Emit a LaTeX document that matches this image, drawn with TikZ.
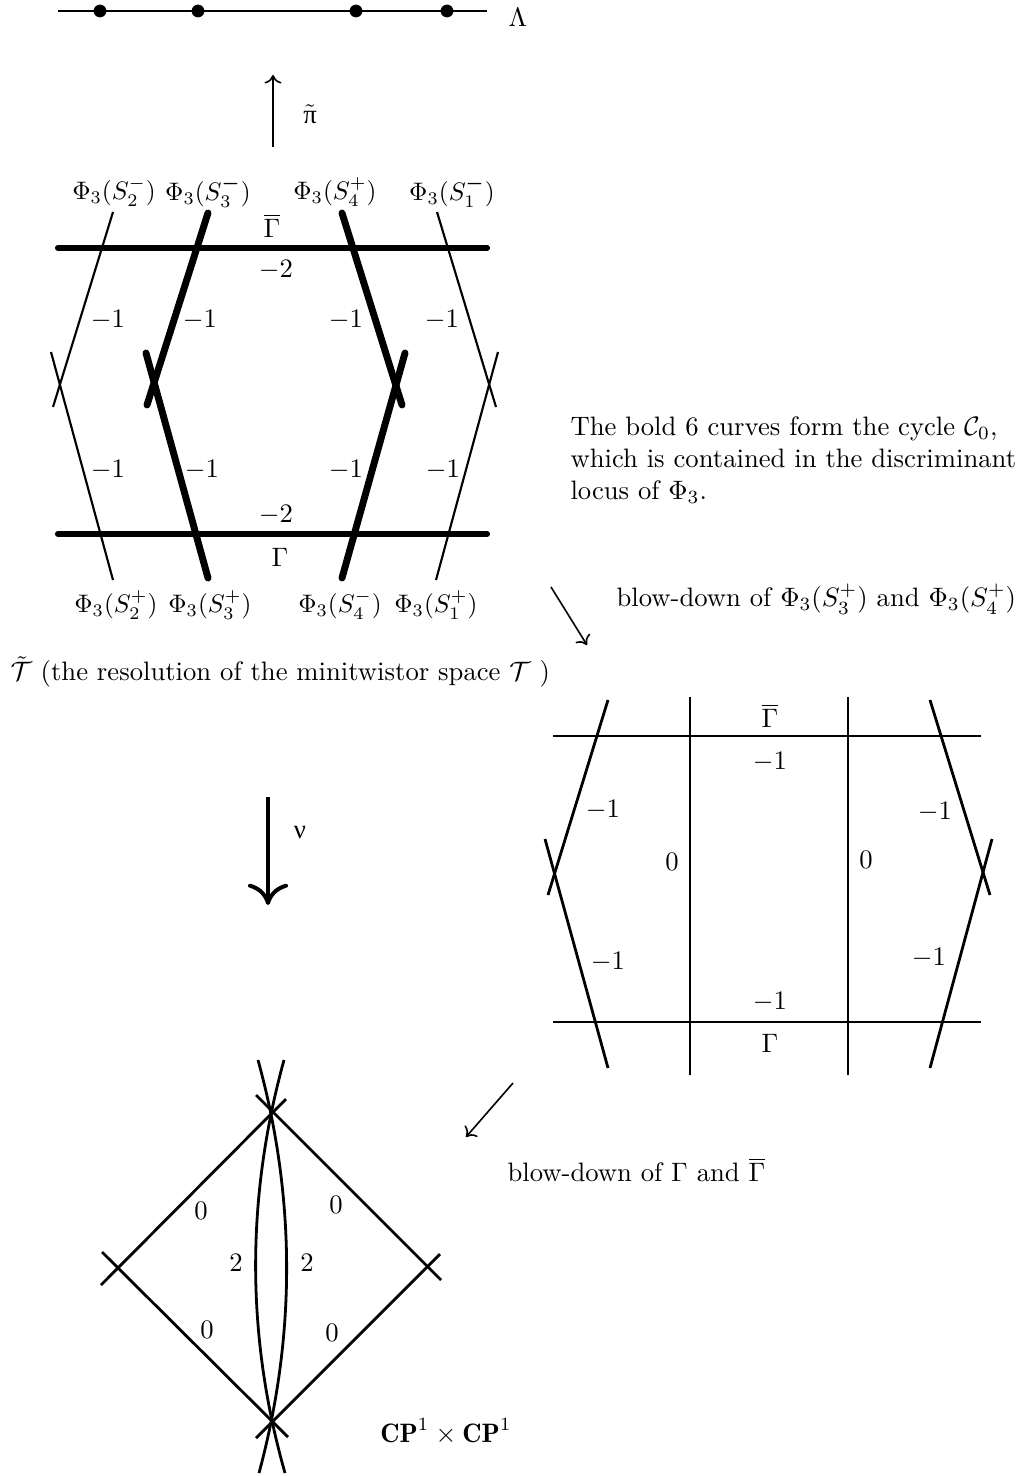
\documentclass[tikz,border=0pt]{standalone}
\usepackage{fontspec}
\usepackage{bm}
\usetikzlibrary{arrows.meta}
\newfontfamily\grk{Liberation Serif}
\newcommand{\philbl}[1]{\scalebox{0.95}{#1}}
\begin{document}
\begin{tikzpicture}[x=0.375pt,y=-0.375pt,
  topln/.style={line width=1pt},
  thinln/.style={line width=0.8pt},
  boldln/.style={line width=2.6pt,line cap=round},
  hline/.style={line width=2.3pt,line cap=round},
  midln/.style={line width=1.05pt},
  arr/.style={-{To[length=3.2pt,width=6.4pt]},line width=0.6pt},
  bigarr/.style={-{To[length=8pt,width=15pt,line width=1.5pt]},line width=1.5pt},
  dot/.style={circle,fill,inner sep=0pt,minimum size=4.8pt},
  lbl/.style={inner sep=0pt}]
\useasboundingbox (0,0) rectangle (1017,1476);

% ---- top line Lambda
\coordinate (Ls) at (58,11); \coordinate (Le) at (487,11);
\draw[topln] (Ls) -- (Le);
\node[dot] (d1) at (100,11) {};
\node[dot] (d2) at (198,11) {};
\node[dot] (d3) at (356,11) {};
\node[dot] (d4) at (447,11) {};
\node[lbl] (Lam) at (518,17) {$\Lambda$};

% ---- pi arrow
\coordinate (pia) at (273,147); \coordinate (pib) at (273,75);
\draw[arr] (pia) -- (pib);
\node[lbl] (pi) at (310,114) {$\tilde{\mbox{\grk π}}$};

% ---- top diagram
\coordinate (Gb1) at (58,248); \coordinate (Gb2) at (487,248);
\coordinate (G1) at (58,534); \coordinate (G2) at (487,534);
\draw[hline] (Gb1) -- (Gb2);
\draw[hline] (G1) -- (G2);
\coordinate (s2ma) at (113,212); \coordinate (s2mb) at (53,407);
\coordinate (s2pa) at (51,352); \coordinate (s2pb) at (113,580);
\coordinate (s1ma) at (437,212); \coordinate (s1mb) at (496,407);
\coordinate (s1pa) at (498,352); \coordinate (s1pb) at (436,580);
\draw[thinln] (s2ma) -- (s2mb);
\draw[thinln] (s2pa) -- (s2pb);
\draw[thinln] (s1ma) -- (s1mb);
\draw[thinln] (s1pa) -- (s1pb);
\coordinate (s3ma) at (208,213); \coordinate (s3mb) at (147,405);
\coordinate (s3pa) at (146,353); \coordinate (s3pb) at (208,578);
\coordinate (s4pa) at (342,213); \coordinate (s4pb) at (402,405);
\coordinate (s4ma) at (405,353); \coordinate (s4mb) at (342,578);
\draw[boldln] (s3ma) -- (s3mb);
\draw[boldln] (s3pa) -- (s3pb);
\draw[boldln] (s4pa) -- (s4pb);
\draw[boldln] (s4ma) -- (s4mb);

\node[lbl] (t1) at (114,192) {\philbl{$\Phi_3(S_2^-)$}};
\node[lbl] (t2) at (208,192) {\philbl{$\Phi_3(S_3^{\bm{-}})$}};
\node[lbl] (t3) at (335,192) {\philbl{$\Phi_3(S_4^+)$}};
\node[lbl] (t4) at (452,192) {\philbl{$\Phi_3(S_1^{\bm{-}})$}};
\node[lbl] (b1) at (116,605) {\philbl{$\Phi_3(S_2^+)$}};
\node[lbl] (b2) at (210,605) {\philbl{$\Phi_3(S_3^+)$}};
\node[lbl] (b3) at (340,605) {\philbl{$\Phi_3(S_4^-)$}};
\node[lbl] (b4) at (436,605) {\philbl{$\Phi_3(S_1^+)$}};

\node[lbl] (Gbl) at (272,226) {$\overline{\Gamma}$};
\node[lbl] (Gl) at (280,557) {$\Gamma$};
\node[lbl] (m2a) at (276,270) {$-2$};
\node[lbl] (m2b) at (276,515) {$-2$};
\node[lbl] (m1a) at (108,320) {$-1$};
\node[lbl] (m1b) at (200,320) {$-1$};
\node[lbl] (m1c) at (346,320) {$-1$};
\node[lbl] (m1d) at (442,320) {$-1$};
\node[lbl] (m1e) at (108,470) {$-1$};
\node[lbl] (m1f) at (202,470) {$-1$};
\node[lbl] (m1g) at (346,470) {$-1$};
\node[lbl] (m1h) at (443,470) {$-1$};

\node[lbl,anchor=west] (Tt) at (10,672) {$\tilde{\mathcal{T}}$ (the resolution of the minitwistor space $\mathcal{T}$\ )};

\node[lbl,anchor=north west,align=left] (txt) at (570,416)
  {The bold 6 curves form the cycle $\mathcal{C}_0$,\\
   which is contained in the discriminant\\
   locus of $\Phi_3$.};

% ---- arrow 1
\coordinate (a1s) at (551,587); \coordinate (a1e) at (587,645);
\draw[arr] (a1s) -- (a1e);
\node[lbl,anchor=west] (bd1) at (616,599) {blow-down of $\Phi_3(S_3^+)$ and $\Phi_3(S_4^+)$};

% ---- middle right diagram
\coordinate (mGb1) at (553,736); \coordinate (mGb2) at (981,736);
\coordinate (mG1) at (553,1022); \coordinate (mG2) at (981,1022);
\draw[midln] (mGb1) -- (mGb2);
\draw[midln] (mG1) -- (mG2);
\coordinate (v1a) at (690,697); \coordinate (v1b) at (690,1075);
\coordinate (v2a) at (848,697); \coordinate (v2b) at (848,1075);
\draw[midln] (v1a) -- (v1b);
\draw[midln] (v2a) -- (v2b);
\coordinate (ml1a) at (608,700); \coordinate (ml1b) at (548,895);
\coordinate (ml2a) at (545,839); \coordinate (ml2b) at (608,1068);
\coordinate (mr1a) at (930,700); \coordinate (mr1b) at (990,895);
\coordinate (mr2a) at (992,839); \coordinate (mr2b) at (930,1068);
\draw[midln] (ml1a) -- (ml1b);
\draw[midln] (ml2a) -- (ml2b);
\draw[midln] (mr1a) -- (mr1b);
\draw[midln] (mr2a) -- (mr2b);
\node[lbl] (mGbl) at (770,716) {$\overline{\Gamma}$};
\node[lbl] (mGl) at (770,1043) {$\Gamma$};
\node[lbl] (n1) at (770,762) {$-1$};
\node[lbl] (n2) at (770,1002) {$-1$};
\node[lbl] (n3) at (603,810) {$-1$};
\node[lbl] (n4) at (935,812) {$-1$};
\node[lbl] (n5) at (608,962) {$-1$};
\node[lbl] (n6) at (929,958) {$-1$};
\node[lbl] (z1) at (672,862) {$0$};
\node[lbl] (z2) at (866,860) {$0$};

% ---- nu arrow
\coordinate (nus) at (268,797); \coordinate (nue) at (268,905);
\draw[bigarr] (nus) -- (nue);
\node[lbl] (nu) at (300,833) {\grk ν};

% ---- arrow 2
\coordinate (a2s) at (513,1083); \coordinate (a2e) at (466,1137);
\draw[arr] (a2s) -- (a2e);
\node[lbl,anchor=west] (bd2) at (507,1170) {blow-down of $\Gamma$ and $\overline{\Gamma}$};

% ---- bottom diagram
\coordinate (eA1) at (101,1285); \coordinate (eA2) at (286,1099);
\coordinate (eB1) at (256,1095); \coordinate (eB2) at (441,1280);
\coordinate (eC1) at (102,1252); \coordinate (eC2) at (288,1437);
\coordinate (eD1) at (440,1254); \coordinate (eD2) at (256,1438);
\draw[midln] (eA1) -- (eA2);
\draw[midln] (eB1) -- (eB2);
\draw[midln] (eC1) -- (eC2);
\draw[midln] (eD1) -- (eD2);
\coordinate (cR1) at (258,1060); \coordinate (cR2) at (259,1473);
\coordinate (cL1) at (284,1060); \coordinate (cL2) at (285,1473);
\draw[midln] (cR1) .. controls (296,1198) and (296,1336) .. (cR2);
\draw[midln] (cL1) .. controls (246,1198) and (246,1336) .. (cL2);
\node[lbl] (o1) at (201,1211) {$0$};
\node[lbl] (o2) at (336,1205) {$0$};
\node[lbl] (o3) at (207,1330) {$0$};
\node[lbl] (o4) at (332,1333) {$0$};
\node[lbl] (w1) at (236,1263) {$2$};
\node[lbl] (w2) at (307,1263) {$2$};
\node[lbl] (cp) at (446,1432) {$\mathbf{CP}^1\times\mathbf{CP}^1$};
\end{tikzpicture}
\end{document}
